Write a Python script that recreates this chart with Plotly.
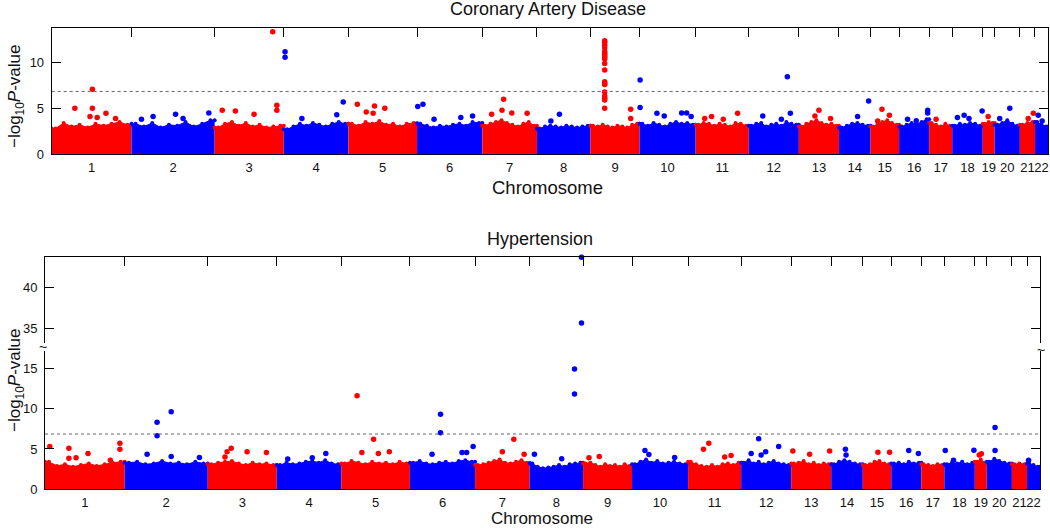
import plotly.graph_objects as go

W, H = 1050, 528
FONT = "Liberation Sans, Arial, sans-serif"
RED, BLUE = "#ff0000", "#0000ff"

chromosomes = [str(i) for i in range(1, 23)]
snp_counts_k = [37.4, 39.0, 32.4, 30.3, 32.2, 30.6, 25.6, 25.1, 23.0, 26.3, 24.9,
                23.5, 18.8, 14.8, 13.4, 14.1, 10.8, 14.3, 5.6, 11.8, 7.1, 6.1]
threshold = 6.85

# upper envelope of the dense mass of SNPs, per chromosome (-log10 P)
cad_env = [
    [2.8, 3.4, 3.0, 3.2, 2.9, 3.3, 3.1, 3.3, 3.5, 3.2],
    [3.3, 3.0, 3.4, 2.9, 3.2, 3.1, 3.5, 3.0, 3.3, 3.7],
    [2.9, 3.3, 3.5, 3.1, 3.4, 3.0, 3.2, 2.9, 3.0, 3.1],
    [2.7, 3.0, 3.3, 3.1, 3.4, 3.2, 3.0, 3.3, 3.5, 3.3],
    [3.3, 3.1, 3.5, 3.3, 3.6, 3.2, 3.3, 3.0, 3.3, 3.4],
    [3.3, 3.1, 2.9, 3.1, 3.0, 3.2, 3.3, 3.1, 3.5, 3.4],
    [3.1, 3.3, 3.5, 3.7, 3.4, 3.2, 3.0, 3.3, 3.5, 3.1],
    [2.8, 3.0, 3.1, 3.0, 2.9, 3.1, 3.0, 2.9, 3.0, 3.1],
    [3.1, 3.0, 3.2, 3.0, 2.9, 3.1, 3.0, 2.9, 3.2, 3.3],
    [3.3, 3.1, 3.4, 3.2, 3.0, 3.3, 3.5, 3.3, 3.4, 3.2],
    [3.2, 3.4, 3.3, 3.1, 3.3, 3.2, 3.0, 3.4, 3.3, 3.1],
    [3.1, 3.3, 3.4, 3.0, 3.2, 3.3, 3.1, 3.5, 3.3, 3.2],
    [3.0, 3.3, 3.5, 3.7, 3.4, 3.2, 3.3, 3.1],
    [2.9, 3.1, 3.3, 3.4, 3.2, 3.1],
    [3.0, 3.3, 3.5, 3.7, 3.4, 3.2],
    [3.0, 3.2, 3.4, 3.3, 3.5, 3.8],
    [3.4, 3.2, 3.0, 3.3, 3.1],
    [3.1, 3.3, 3.2, 3.4, 3.3, 3.1],
    [3.3, 3.5, 3.4],
    [3.2, 3.4, 3.7, 3.3, 3.1],
    [3.2, 3.4, 3.5],
    [3.5, 3.2, 3.0],
]
htn_env = [
    [3.4, 2.9, 3.1, 2.8, 3.0, 3.2, 2.9, 3.1, 3.3, 3.4],
    [3.3, 3.4, 3.1, 3.2, 3.5, 3.2, 3.3, 3.1, 3.4, 3.2],
    [3.1, 3.3, 3.4, 3.5, 3.2, 3.0, 3.3, 3.1, 3.2, 3.0],
    [3.0, 3.3, 3.1, 3.2, 3.4, 3.5, 3.3, 3.6, 3.2, 3.1],
    [3.2, 3.5, 3.3, 3.1, 3.4, 3.2, 3.3, 3.1, 3.4, 3.2],
    [3.3, 3.5, 3.2, 3.1, 3.3, 3.4, 3.2, 3.5, 3.6, 3.4],
    [3.0, 3.1, 3.3, 3.5, 3.7, 3.3, 3.2, 3.4, 3.6, 3.3],
    [3.2, 2.8, 2.6, 2.7, 2.8, 3.0, 2.8, 3.1, 3.2, 3.3],
    [3.2, 3.3, 3.0, 2.8, 3.1, 2.9, 3.0, 2.8, 3.1, 2.9],
    [3.1, 3.4, 3.7, 3.3, 3.5, 3.2, 3.3, 3.4, 3.2, 3.1],
    [3.4, 3.1, 2.9, 2.8, 3.0, 2.8, 3.1, 3.2, 3.0, 3.3],
    [3.3, 3.6, 3.2, 3.4, 3.1, 3.3, 3.5, 3.2, 3.1, 3.0],
    [3.2, 3.3, 3.5, 3.1, 3.3, 3.0, 3.2, 3.1],
    [3.1, 3.4, 3.6, 3.4, 3.2, 3.1],
    [3.0, 3.1, 3.4, 3.5, 3.2, 3.1],
    [3.2, 3.3, 3.1, 3.4, 3.2, 3.3],
    [3.1, 3.0, 2.9, 3.1, 3.0],
    [3.1, 3.3, 3.2, 3.4, 3.1, 3.3],
    [3.4, 3.7, 3.3],
    [3.4, 3.8, 3.5, 3.3, 3.2],
    [3.1, 3.2, 3.1],
    [3.2, 3.0, 2.8],
]

# individual SNPs standing out above the mass: chromosome, relative position, -log10 P
cad_hit_chr = [1, 1, 1, 1, 1, 1, 1, 2, 2, 2, 2, 2, 3, 3, 3, 3, 3, 3, 4, 4, 4, 4, 4,
               5, 5, 5, 5, 5, 6, 6, 6, 6, 6, 7, 7, 7, 7, 7, 8, 8,
               9, 9, 9, 9, 9, 9, 9, 9, 9, 9, 9, 9, 9, 9, 9, 9, 9, 9, 9, 9, 9,
               10, 10, 10, 10, 10, 10, 10, 11, 11, 11, 11, 12, 12, 12, 12, 13, 13, 13,
               14, 14, 15, 15, 15, 16, 16, 16, 16, 17, 18, 18, 18, 18, 19, 20, 20,
               21, 21, 22, 22]
cad_hit_frac = [0.51, 0.29, 0.51, 0.68, 0.57, 0.48, 0.80, 0.53, 0.93, 0.26, 0.62, 0.12,
                0.84, 0.90, 0.90, 0.11, 0.30, 0.57, 0.02, 0.02, 0.92, 0.82, 0.28,
                0.13, 0.38, 0.26, 0.53, 0.36, 0.01, 0.09, 0.26, 0.67, 0.85,
                0.39, 0.36, 0.17, 0.54, 0.82, 0.42, 0.26,
                0.29, 0.29, 0.29, 0.29, 0.29, 0.29, 0.29, 0.29, 0.29, 0.29, 0.29,
                0.29, 0.29, 0.29, 0.29, 0.29, 0.29, 0.29, 0.29, 0.82, 0.82,
                0.01, 0.01, 0.31, 0.75, 0.84, 0.92, 0.44, 0.17, 0.79, 0.52, 0.30,
                0.77, 0.83, 0.28, 0.65, 0.50, 0.40, 0.79, 0.94, 0.59, 0.40, 0.66, 0.25,
                0.28, 0.57, 0.95, 0.95, 0.30, 0.39, 0.17, 0.55, 0.98, 0.45, 0.60, 0.20,
                0.89, 0.55, 0.25, 0.55]
cad_hit_val = [7.1, 5.0, 5.0, 4.45, 4.0, 4.1, 3.9, 4.35, 4.5, 4.1, 3.9, 3.8,
               13.4, 5.35, 4.8, 4.8, 4.7, 4.35, 11.2, 10.6, 5.7, 4.3, 3.9,
               5.45, 5.25, 4.6, 5.0, 4.45, 5.2, 5.45, 3.8, 4.0, 4.15,
               6.0, 4.8, 4.35, 4.5, 4.45, 4.35, 3.6,
               12.4, 12.2, 11.9, 11.6, 11.2, 11.0, 10.8, 10.6, 10.4, 9.9, 9.2,
               7.9, 7.7, 7.6, 6.8, 6.35, 6.1, 5.9, 5.0, 4.9, 3.9,
               8.1, 5.1, 4.45, 4.5, 4.5, 4.1, 4.15, 3.9, 4.45, 3.8, 4.1,
               8.45, 4.45, 4.15, 3.8, 4.8, 4.15, 3.9, 5.8, 4.1, 4.9, 4.25, 3.6,
               3.8, 3.65, 4.8, 4.5, 3.8, 4.25, 4.0, 3.9, 4.7, 4.1, 5.0, 3.9,
               4.45, 3.9, 4.25, 3.6]

htn_hit_chr = [1, 1, 1, 1, 1, 1, 1, 1, 2, 2, 2, 2, 2, 2, 3, 3, 3, 3, 3, 4, 4, 4,
               5, 5, 5, 5, 5, 6, 6, 6, 6, 6, 6, 7, 7, 7, 8, 8, 8, 8, 8, 8,
               9, 9, 10, 10, 10, 11, 11, 11, 11, 12, 12, 12, 12, 12, 13, 13, 13,
               14, 14, 15, 15, 16, 16, 18, 18, 18, 19, 19, 20, 20, 22]
htn_hit_frac = [0.06, 0.30, 0.30, 0.39, 0.54, 0.94, 0.94, 0.82,
                0.39, 0.39, 0.56, 0.56, 0.27, 0.90, 0.34, 0.28, 0.57, 0.85, 0.25,
                0.76, 0.17, 0.55, 0.23, 0.47, 0.30, 0.70, 0.54,
                0.47, 0.47, 0.97, 0.80, 0.87, 0.34, 0.71, 0.50, 0.90,
                0.09, 0.97, 0.97, 0.84, 0.84, 0.60, 0.33, 0.12, 0.23, 0.76, 0.30,
                0.39, 0.29, 0.69, 0.81, 0.35, 0.75, 0.49, 0.20, 0.40,
                0.04, 0.96, 0.46, 0.45, 0.47, 0.53, 0.94, 0.58, 0.90,
                0.03, 0.30, 0.97, 0.37, 0.55, 0.33, 0.33, 0.12]
htn_hit_val = [5.3, 5.1, 3.85, 3.9, 4.45, 5.7, 4.95, 3.6,
               8.3, 6.65, 9.6, 4.05, 4.35, 3.95, 5.1, 4.65, 4.65, 4.55, 4.0,
               4.45, 3.75, 3.9, 11.6, 6.2, 4.55, 4.65, 4.45,
               9.3, 7.0, 5.3, 4.55, 4.55, 4.35, 6.2, 4.65, 4.35,
               4.35, 43.7, 35.7, 14.9, 11.8, 3.8, 4.05, 3.9, 4.8, 3.95, 4.3,
               5.7, 4.95, 4.0, 4.2, 6.25, 5.3, 4.65, 4.45, 4.25,
               4.75, 4.75, 4.35, 4.95, 4.25, 4.6, 4.6, 4.8, 4.45,
               4.8, 3.6, 4.85, 4.25, 4.4, 7.65, 4.8, 3.6]

# ---------------------------------------------------------------------------
starts = []
acc = 0.0
for c in snp_counts_k:
    starts.append(acc)
    acc += c
total = acc
centers = [s + c / 2 for s, c in zip(starts, snp_counts_k)]
inner_bounds = starts[1:]


def color_of(i):
    return RED if i % 2 == 0 else BLUE


fig = go.Figure()


def add_mass(env, xa, ya):
    for i, vals in enumerate(env):
        s, c = starts[i], snp_counts_k[i]
        n = len(vals)
        xs = [s] + [s + (k + 0.5) / n * c for k in range(n)] + [s + c]
        ys = [vals[0]] + list(vals) + [vals[-1]]
        fig.add_trace(go.Scatter(
            x=xs, y=ys, mode="lines+markers", fill="tozeroy",
            fillcolor=color_of(i), line=dict(color=color_of(i), width=1),
            marker=dict(size=4, color=color_of(i)),
            xaxis=xa, yaxis=ya, hoverinfo="skip", showlegend=False))


def add_hits(chrs, fracs, vals, xa, ya, lo=None, hi=None):
    xs, ys, cs = [], [], []
    for ch, f, v in zip(chrs, fracs, vals):
        if lo is not None and v < lo:
            continue
        if hi is not None and v > hi:
            continue
        i = ch - 1
        xs.append(starts[i] + f * snp_counts_k[i])
        ys.append(v)
        cs.append(color_of(i))
    fig.add_trace(go.Scatter(
        x=xs, y=ys, mode="markers", cliponaxis=False,
        marker=dict(symbol="circle", size=5.5, color=cs, line=dict(width=0)),
        xaxis=xa, yaxis=ya, showlegend=False))


# top panel
add_mass(cad_env, "x", "y")
add_hits(cad_hit_chr, cad_hit_frac, cad_hit_val, "x", "y")
fig.add_trace(go.Scatter(x=[0, total], y=[threshold, threshold], mode="lines",
                         line=dict(color="#666666", width=1, dash="dot"),
                         xaxis="x2", yaxis="y", hoverinfo="skip", showlegend=False))

# bottom panel (broken axis)
add_mass(htn_env, "x3", "y3")
add_hits(htn_hit_chr, htn_hit_frac, htn_hit_val, "x3", "y3", hi=30)
add_hits(htn_hit_chr, htn_hit_frac, htn_hit_val, "x4", "y4", lo=30)
fig.add_trace(go.Scatter(x=[0, total], y=[threshold, threshold], mode="lines",
                         line=dict(color="#666666", width=1, dash="dot"),
                         xaxis="x3", yaxis="y3", hoverinfo="skip", showlegend=False))


def px_x(p):
    return p / W


def px_y(p):
    return 1 - p / H


tickfont = dict(family=FONT, size=13, color="#111111")

bottom_x = dict(range=[0, total], tickmode="array", tickvals=centers, ticktext=chromosomes,
                ticks="", tickangle=0, showline=True, linecolor="#000030", linewidth=1,
                showgrid=False, zeroline=False, tickfont=tickfont,
                ticklabelstandoff=1, automargin=False, fixedrange=True)
top_x = dict(range=[0, total], tickmode="array", tickvals=inner_bounds,
             ticks="inside", ticklen=9, tickcolor="#000000", tickwidth=1,
             showticklabels=False, showline=True, linecolor="#000000", linewidth=1,
             showgrid=False, zeroline=False, side="top", automargin=False)
yax = dict(ticks="inside", ticklen=9, tickcolor="#000000", tickwidth=1,
           showline=True, linecolor="#000000", linewidth=1, mirror="ticks",
           showgrid=False, zeroline=False, tickfont=tickfont, ticklabelstandoff=4,
           automargin=False)

fig.update_layout(
    width=W, height=H,
    margin=dict(l=0, r=0, t=0, b=0),
    paper_bgcolor="white", plot_bgcolor="white",
    showlegend=False,
    xaxis=dict(bottom_x, domain=[px_x(51.7), px_x(1048)], anchor="y"),
    xaxis2=dict(top_x, domain=[px_x(51.7), px_x(1048)], anchor="y",
                overlaying="x", matches="x"),
    yaxis=dict(yax, domain=[px_y(154), px_y(27.7)], range=[0, 13.83],
               tickvals=[0, 5, 10], anchor="x"),
    xaxis3=dict(bottom_x, domain=[px_x(45), px_x(1040)], anchor="y3"),
    xaxis4=dict(top_x, domain=[px_x(45), px_x(1040)], anchor="y4", matches="x3"),
    yaxis3=dict(yax, domain=[px_y(489.3), px_y(351)], range=[0, 17.14],
                tickvals=[0, 5, 10, 15], anchor="x3"),
    yaxis4=dict(yax, domain=[px_y(343), px_y(256.7)], range=[33.26, 43.78],
                tickvals=[35, 40], anchor="x4"),
)

big = dict(family=FONT, size=18, color="#111111")
annotations = [
    dict(text="Coronary Artery Disease", x=px_x(548), y=px_y(9), font=big),
    dict(text="Hypertension", x=px_x(540), y=px_y(239), font=big),
    dict(text="Chromosome", x=px_x(547), y=px_y(187), font=dict(family=FONT, size=18.5, color="#111111")),
    dict(text="Chromosome", x=px_x(542), y=px_y(518.5), font=dict(family=FONT, size=17, color="#111111")),
    dict(text="\u2212log<sub>10</sub><i>P</i>-value", x=px_x(16), y=px_y(96), textangle=-90,
         font=dict(family=FONT, size=17, color="#111111")),
    dict(text="\u2212log<sub>10</sub><i>P</i>-value", x=px_x(16), y=px_y(380), textangle=-90,
         font=dict(family=FONT, size=17, color="#111111")),
    dict(text="~", x=px_x(43), y=px_y(347), font=dict(family=FONT, size=14, color="#111111")),
    dict(text="~", x=px_x(1041), y=px_y(350), font=dict(family=FONT, size=14, color="#111111")),
]
for a in annotations:
    a.update(xref="paper", yref="paper", showarrow=False, xanchor="center", yanchor="middle")
fig.update_layout(annotations=annotations)

fig.write_html("out.html", config={"displayModeBar": False},
               post_script="document.body.style.margin='0';")
